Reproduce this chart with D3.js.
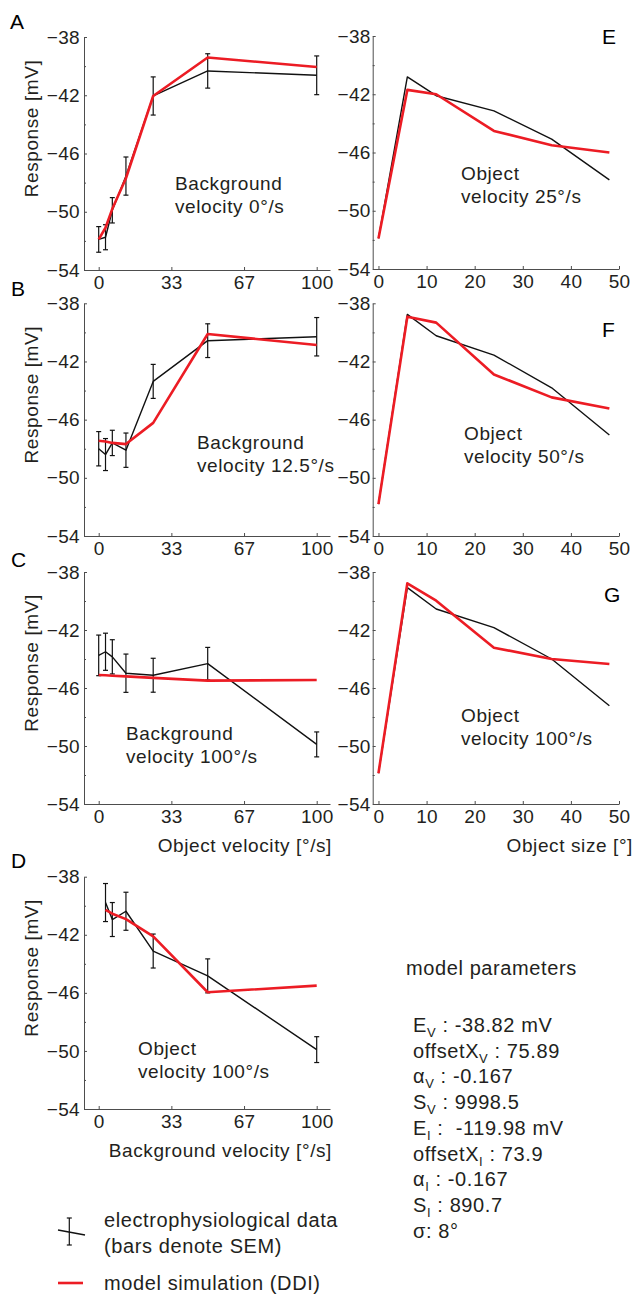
<!DOCTYPE html>
<html>
<head>
<meta charset="utf-8">
<script src="https://cdn.jsdelivr.net/npm/d3@7"></script>
<style>
body { margin: 0; background: #fff; }
svg { display: block; font-family: "Liberation Sans", Arial, sans-serif; }
.axis path, .axis line { stroke: #4d4d4d; stroke-width: 1; }
.axis text { fill: #231f20; font-size: 19px; font-family: "Liberation Sans", Arial, sans-serif; letter-spacing: 0.3px; }
.lbl { fill: #231f20; font-size: 19px; letter-spacing: 0.6px; white-space: pre; }
</style>
</head>
<body>
<svg id="chart" width="637" height="1294"></svg>
<script>
// x values
var objVel = [0, 3.125, 6.25, 12.5, 25, 50, 100],
    bgVel = [3.125, 6.25, 12.5, 25, 50, 100],
    objSize = [0, 6, 12, 24, 36, 48];

// ticks
var yTicks = [-54, -50, -46, -42, -38],
    yMinor = [-52, -48, -44, -40],
    velTicks = [0, 100 / 3, 200 / 3, 100],
    velTickLabels = ["0", "33", "67", "100"],
    sizeTicks = [0, 10, 20, 30, 40, 50];

// A: background 0 deg/s
var aData = [-51.9, -51.75, -49.9, -47.55, -42.05, -40.33, -40.63],
    aSem = [0.88, 0.86, 0.87, 1.31, 1.31, 1.18, 1.33],
    aModel = [-51.9, -51.1, -49.8, -47.7, -42.05, -39.41, -40.06];
// B: background 12.5 deg/s
var bData = [-48.0, -48.4, -47.6, -48.1, -43.37, -40.57, -40.3],
    bSem = [1.18, 1.1, 0.87, 1.18, 1.17, 1.16, 1.32],
    bModel = [-47.45, -47.5, -47.6, -47.68, -46.22, -40.11, -40.87];
// C: background 100 deg/s
var cData = [-43.75, -43.5, -43.85, -44.98, -45.12, -44.32, -49.89],
    cSem = [1.4, 1.28, 1.18, 1.32, 1.17, 1.12, 0.86],
    cModel = [-45.1, -45.12, -45.15, -45.2, -45.3, -45.49, -45.45];
// D: object 100 deg/s, varying background
var dData = [-39.78, -40.95, -40.38, -43.12, -44.83, -49.91],
    dSem = [1.31, 1.17, 1.31, 1.17, 1.17, 0.89],
    dModel = [-40.28, -40.55, -40.92, -42.11, -45.96, -45.5];
// E-G: object size
var eData = [-51.9, -40.81, -42.1, -43.14, -45.08, -47.88],
    eModel = [-51.9, -41.7, -42.0, -44.52, -45.5, -46.0];
var fData = [-51.81, -38.76, -40.23, -41.56, -43.81, -47.06],
    fModel = [-51.81, -38.92, -39.33, -42.89, -44.47, -45.23];
var gData = [-51.88, -39.08, -40.55, -41.84, -44.0, -47.22],
    gModel = [-51.88, -38.78, -39.98, -43.22, -44.0, -44.34];

var paramNames = ["E", "offsetX", "\u03b1", "S", "E", "offsetX", "\u03b1", "S", "\u03c3"],
    paramSubs = ["V", "V", "V", "V", "I", "I", "I", "I", ""],
    paramValues = [" : -38.82 mV", " : 75.89", " : -0.167", " : 9998.5", " :  -119.98 mV", " : 73.9", " : -0.167", " : 890.7", ": 8\u00b0"];

var svg = d3.select("#chart"),
    red = "#ec1c24",
    ink = "#231f20";

var left = { x0: 84, x1: 330, dom: [-6.74, 106.1], pad: 4 },
    right = { x0: 372.7, x1: 619, dom: [-1.2, 50], pad: 2 };

var panels = [
    { col: left, top: 37, bottom: 270, xs: objVel, data: aData, sem: aSem, model: aModel,
      ticks: velTicks, tickLabels: velTickLabels, letter: "A", lx: 10, ly: 29,
      note: ["Background", "velocity 0\u00b0/s"], nx: 175, ny: 190 },
    { col: left, top: 303.3, bottom: 536, xs: objVel, data: bData, sem: bSem, model: bModel,
      ticks: velTicks, tickLabels: velTickLabels, letter: "B", lx: 11, ly: 296,
      note: ["Background", "velocity 12.5\u00b0/s"], nx: 197, ny: 449 },
    { col: left, top: 572, bottom: 804, xs: objVel, data: cData, sem: cSem, model: cModel,
      ticks: velTicks, tickLabels: velTickLabels, letter: "C", lx: 11, ly: 567,
      note: ["Background", "velocity 100\u00b0/s"], nx: 126, ny: 740,
      title: "Object velocity [\u00b0/s]" },
    { col: left, top: 876.7, bottom: 1109, xs: bgVel, data: dData, sem: dSem, model: dModel,
      ticks: velTicks, tickLabels: velTickLabels, letter: "D", lx: 11, ly: 868,
      note: ["Object", "velocity 100\u00b0/s"], nx: 138, ny: 1055,
      title: "Background velocity [\u00b0/s]" },
    { col: right, top: 36, bottom: 269, xs: objSize, data: eData, model: eModel,
      ticks: sizeTicks, letter: "E", lx: 602, ly: 44,
      note: ["Object", "velocity 25\u00b0/s"], nx: 461, ny: 180 },
    { col: right, top: 303.3, bottom: 536, xs: objSize, data: fData, model: fModel,
      ticks: sizeTicks, letter: "F", lx: 602, ly: 337,
      note: ["Object", "velocity 50\u00b0/s"], nx: 464, ny: 440 },
    { col: right, top: 572, bottom: 804, xs: objSize, data: gData, model: gModel,
      ticks: sizeTicks, letter: "G", lx: 604, ly: 602,
      note: ["Object", "velocity 100\u00b0/s"], nx: 461, ny: 722,
      title: "Object size [\u00b0]" }
];

panels.forEach(function(p) {
    var x = d3.scaleLinear().domain(p.col.dom).range([p.col.x0, p.col.x1]),
        y = d3.scaleLinear().domain([-54, -38]).range([p.bottom, p.top]),
        g = svg.append("g");

    var xAxis = d3.axisBottom(x)
        .tickValues(p.ticks)
        .tickSize(-3).tickSizeOuter(0).tickPadding(6);
    if (p.tickLabels) {
        xAxis.tickFormat(function(d, i) { return p.tickLabels[i]; });
    }
    g.append("g").attr("class", "axis")
        .attr("transform", "translate(0," + p.bottom + ")")
        .call(xAxis);

    g.append("g").attr("class", "axis")
        .attr("transform", "translate(" + p.col.x0 + ",0)")
        .call(d3.axisLeft(y).tickValues(yTicks).tickSize(-3).tickSizeOuter(0).tickPadding(p.col.pad));

    // minor ticks
    g.append("g").attr("class", "axis")
        .attr("transform", "translate(" + p.col.x0 + ",0)")
        .call(d3.axisLeft(y).tickValues(yMinor).tickSize(-2).tickFormat(""))
        .select(".domain").remove();

    if (p.col === left) {
        g.append("text").attr("class", "lbl")
            .attr("transform", "translate(37.5," + ((p.top + p.bottom) / 2 - 25) + ") rotate(-90)")
            .attr("text-anchor", "middle")
            .text("Response [mV]");
    }

    var pts = p.xs.map(function(v, i) { return { x: v, v: p.data[i], s: p.sem ? p.sem[i] : 0 }; }),
        mod = p.xs.map(function(v, i) { return { x: v, v: p.model[i] }; });

    var line = d3.line().x(function(d) { return x(d.x); }).y(function(d) { return y(d.v); });

    g.append("path").datum(pts)
        .attr("d", line)
        .attr("fill", "none").attr("stroke", "#111").attr("stroke-width", 1.4)
        .attr("stroke-linejoin", "round");

    if (p.sem) {
        var eb = g.selectAll(".eb").data(pts).enter().append("g")
            .attr("stroke", "#111").attr("stroke-width", 1.2);
        eb.append("line")
            .attr("x1", function(d) { return x(d.x); }).attr("x2", function(d) { return x(d.x); })
            .attr("y1", function(d) { return y(d.v - d.s); }).attr("y2", function(d) { return y(d.v + d.s); });
        [-1, 1].forEach(function(k) {
            eb.append("line")
                .attr("x1", function(d) { return x(d.x) - 2.5; }).attr("x2", function(d) { return x(d.x) + 2.5; })
                .attr("y1", function(d) { return y(d.v + k * d.s); }).attr("y2", function(d) { return y(d.v + k * d.s); });
        });
    }

    g.append("path").datum(mod)
        .attr("d", line)
        .attr("fill", "none").attr("stroke", red).attr("stroke-width", 2.6)
        .attr("stroke-linejoin", "round");

    g.append("text").attr("x", p.lx).attr("y", p.ly)
        .attr("font-size", 21).attr("fill", "#000").text(p.letter);

    p.note.forEach(function(t, i) {
        g.append("text").attr("class", "lbl")
            .attr("x", p.nx).attr("y", p.ny + i * 23).text(t);
    });

    if (p.title) {
        g.append("text").attr("class", "lbl")
            .attr("x", p.col === left ? 332 : 633).attr("y", p.bottom + 48)
            .attr("text-anchor", "end").text(p.title);
    }
});

// model parameters
svg.append("text").attr("class", "lbl")
    .style("font-size", "20px")
    .attr("x", 406).attr("y", 975).text("model parameters");

paramNames.forEach(function(n, i) {
    var t = svg.append("text").attr("class", "lbl").style("font-size", "20px")
        .attr("x", 413).attr("y", 1032 + i * 25.7);
    t.append("tspan").text(n);
    if (paramSubs[i]) {
        t.append("tspan").attr("dy", 5).style("font-size", "13px").text(paramSubs[i]);
        t.append("tspan").attr("dy", -5).text(paramValues[i]);
    } else {
        t.append("tspan").text(paramValues[i]);
    }
});

// legend
var leg = svg.append("g");
leg.append("line").attr("x1", 69.3).attr("x2", 69.3).attr("y1", 1218).attr("y2", 1245)
    .attr("stroke", "#111").attr("stroke-width", 1.2);
leg.append("line").attr("x1", 66.8).attr("x2", 71.8).attr("y1", 1218).attr("y2", 1218)
    .attr("stroke", "#111").attr("stroke-width", 1.2);
leg.append("line").attr("x1", 66.8).attr("x2", 71.8).attr("y1", 1245).attr("y2", 1245)
    .attr("stroke", "#111").attr("stroke-width", 1.2);
leg.append("line").attr("x1", 58).attr("x2", 85).attr("y1", 1230).attr("y2", 1235)
    .attr("stroke", "#111").attr("stroke-width", 1.4);
leg.append("line").attr("x1", 58).attr("x2", 83).attr("y1", 1283).attr("y2", 1283)
    .attr("stroke", red).attr("stroke-width", 2.6);
[["electrophysiological data", 1227], ["(bars denote SEM)", 1253], ["model simulation (DDI)", 1290]]
    .forEach(function(d) {
        leg.append("text").attr("class", "lbl").style("font-size", "20px")
            .attr("x", 104).attr("y", d[1]).text(d[0]);
    });
</script>
</body>
</html>
